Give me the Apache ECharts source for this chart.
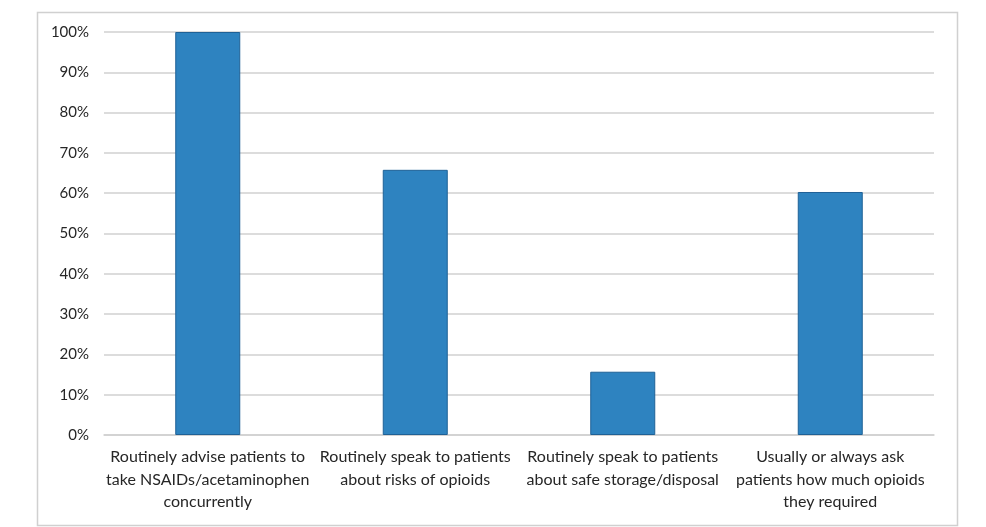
<!DOCTYPE html>
<html><head><meta charset="utf-8">
<script src="https://cdn.jsdelivr.net/npm/echarts@6/dist/echarts.min.js"></script>
<style>html,body{margin:0;padding:0;background:#fff}#c{width:986px;height:527px}</style>
</head><body><div id="c"></div>
<script>
const categories = [
  "Routinely advise patients to\ntake NSAIDs/acetaminophen\nconcurrently",
  "Routinely speak to patients\nabout risks of opioids",
  "Routinely speak to patients\nabout safe storage/disposal",
  "Usually or always ask\npatients how much opioids\nthey required"
];
const values = [100, 65.8, 15.7, 60.3];
const yTicks = [0, 10, 20, 30, 40, 50, 60, 70, 80, 90, 100];

const chart = echarts.init(document.getElementById('c'), null, {renderer: 'canvas'});
chart.setOption({
  animation: false,
  backgroundColor: '#fff',
  graphic: [{
    type: 'rect', left: 35, top: 10, silent: true,
    shape: {width: 920, height: 513},
    style: {fill: 'none', stroke: '#d0d0d0', lineWidth: 1.5}
  }],
  grid: {left: 104, right: 52, top: 32, bottom: 92, containLabel: false},
  xAxis: {
    type: 'category', data: categories,
    axisLine: {show: true, lineStyle: {color: '#d0d0d0', width: 1.5}},
    axisTick: {show: false},
    axisLabel: {
      interval: 0, margin: 11, color: '#262626',
      fontFamily: 'Lato', fontSize: 16, lineHeight: 22.5
    }
  },
  yAxis: {
    type: 'value', min: yTicks[0], max: yTicks[yTicks.length - 1], interval: 10,
    axisLine: {show: false}, axisTick: {show: false},
    splitLine: {lineStyle: {color: '#d0d0d0', width: 1.5}},
    axisLabel: {
      margin: 15, color: '#262626', fontFamily: 'Lato', fontSize: 15,
      formatter: v => v + '%'
    }
  },
  series: [{
    type: 'bar', data: values, barWidth: 65,
    itemStyle: {color: '#2e83c0', borderColor: '#1f6196', borderWidth: 1}
  }]
});
</script></body></html>
